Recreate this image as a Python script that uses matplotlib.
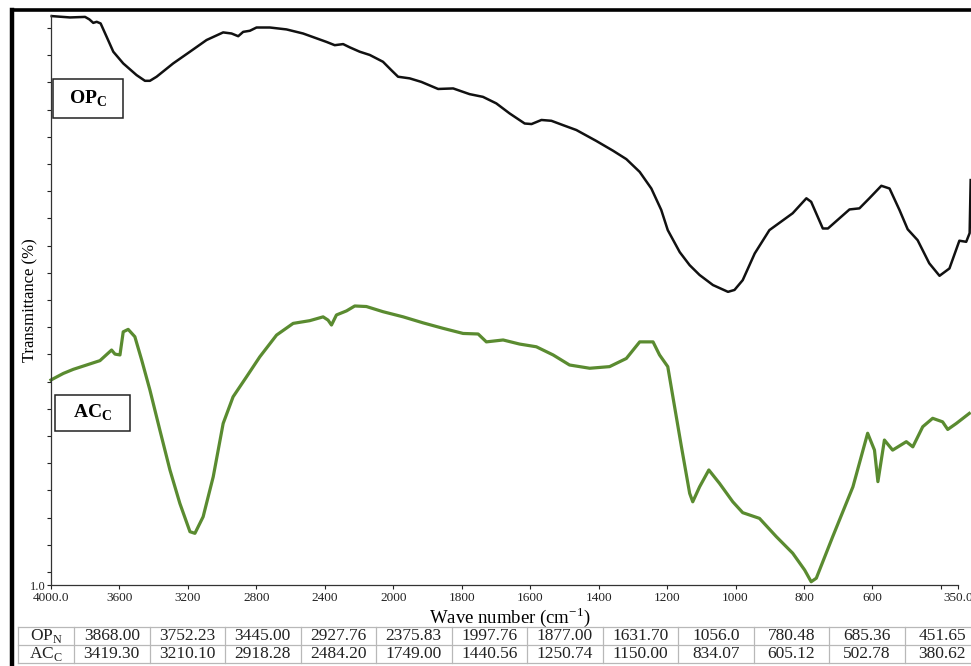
import numpy as np
import matplotlib
matplotlib.use("Agg")
import matplotlib.pyplot as plt
from matplotlib.lines import Line2D
from matplotlib.patches import Rectangle
from matplotlib.ticker import FixedLocator, FixedFormatter

plt.rcParams['font.family'] = ['Liberation Serif', 'DejaVu Serif']
plt.rcParams['mathtext.fontset'] = 'custom'
plt.rcParams['mathtext.rm'] = 'Liberation Serif'
plt.rcParams['mathtext.bf'] = 'Liberation Serif:bold'

# OP_C spectrum (wavenumber cm-1, transmittance a.u.)
op_wn = [3996, 3889, 3801, 3776, 3753, 3733, 3710, 3675, 3636, 3578,
         3500, 3451, 3422, 3383, 3286, 3188, 3091, 2994, 2945, 2906,
         2877, 2838, 2799, 2721, 2624, 2527, 2390, 2342, 2293, 2254,
         2196, 2137, 2060, 2011, 1986, 1952, 1918, 1869, 1825, 1777,
         1738, 1699, 1660, 1616, 1596, 1567, 1538, 1504, 1465, 1407,
         1358, 1319, 1280, 1246, 1217, 1198, 1163, 1134, 1105, 1066,
         1022, 1003, 979, 944, 901, 833, 793, 779, 745, 730,
         667, 638, 609, 574, 550, 521, 497, 468, 434, 404,
         375, 346, 326, 316, 313]
op_t = [21.92, 21.87, 21.89, 21.80, 21.67, 21.71, 21.65, 21.16, 20.61, 20.18,
        19.75, 19.54, 19.54, 19.69, 20.18, 20.61, 21.04, 21.32, 21.28, 21.18,
        21.34, 21.38, 21.50, 21.50, 21.43, 21.28, 20.97, 20.85, 20.89, 20.77,
        20.61, 20.49, 20.24, 19.93, 19.69, 19.63, 19.50, 19.24, 19.26, 19.05,
        18.95, 18.71, 18.34, 17.97, 17.95, 18.10, 18.07, 17.91, 17.73, 17.33,
        16.97, 16.66, 16.19, 15.58, 14.79, 14.05, 13.24, 12.76, 12.40, 12.03,
        11.78, 11.85, 12.21, 13.19, 14.05, 14.67, 15.22, 15.09, 14.11, 14.11,
        14.81, 14.85, 15.22, 15.68, 15.58, 14.79, 14.08, 13.68, 12.83, 12.37,
        12.64, 13.66, 13.62, 13.94, 15.89]

# AC_C spectrum
ac_wn = [4000, 3928, 3870, 3792, 3714, 3646, 3626, 3597, 3578, 3549,
         3510, 3470, 3422, 3364, 3305, 3247, 3188, 3159, 3111, 3052,
         2994, 2936, 2857, 2780, 2682, 2585, 2488, 2410, 2381, 2361,
         2332, 2273, 2225, 2157, 2060, 1971, 1913, 1855, 1796, 1752,
         1728, 1679, 1631, 1582, 1533, 1485, 1426, 1368, 1319, 1280,
         1241, 1222, 1198, 1183, 1158, 1134, 1125, 1105, 1078, 1047,
         1008, 979, 930, 881, 833, 798, 779, 764, 716, 657,
         614, 594, 584, 565, 541, 501, 482, 453, 424, 395,
         380, 355, 317]
ac_t = [8.54, 8.78, 8.93, 9.09, 9.25, 9.64, 9.49, 9.46, 10.31, 10.40,
        10.13, 9.27, 8.17, 6.70, 5.23, 4.00, 2.96, 2.90, 3.51, 4.98,
        6.94, 7.92, 8.66, 9.39, 10.19, 10.62, 10.72, 10.86, 10.74, 10.56,
        10.93, 11.08, 11.26, 11.24, 11.05, 10.86, 10.64, 10.44, 10.25, 10.23,
        9.94, 10.01, 9.86, 9.76, 9.46, 9.09, 8.97, 9.03, 9.33, 9.94,
        9.94, 9.46, 9.03, 7.92, 6.08, 4.37, 4.06, 4.61, 5.23, 4.74,
        4.06, 3.66, 3.45, 2.78, 2.17, 1.55, 1.12, 1.25, 2.78, 4.61,
        6.58, 5.96, 4.80, 6.33, 5.96, 6.27, 6.08, 6.82, 7.13, 7.00,
        6.72, 6.94, 7.31]

x_ticks = [4000, 3600, 3200, 2800, 2400, 2000, 1800, 1600, 1400, 1200,
           1000, 800, 600, 400, 350]
x_ticklabels = ['4000.0', '3600', '3200', '2800', '2400', '2000', '1800',
                '1600', '1400', '1200', '1000', '800', '600', '', '350.0']

# peak table
row_names = [r'OP$_{\mathrm{N}}$', r'AC$_{\mathrm{C}}$']
op_peaks = ['3868.00', '3752.23', '3445.00', '2927.76', '2375.83', '1997.76',
            '1877.00', '1631.70', '1056.0', '780.48', '685.36', '451.65']
ac_peaks = ['3419.30', '3210.10', '2918.28', '2484.20', '1749.00', '1440.56',
            '1250.74', '1150.00', '834.07', '605.12', '502.78', '380.62']


# scale changes at 2000 cm-1 (400/div above, 200/div below)
def fwd(w):
    w = np.asarray(w, dtype=float)
    return np.where(w >= 2000, (w - 2000) / 400.0, (w - 2000) / 200.0)


def inv(p):
    p = np.asarray(p, dtype=float)
    return np.where(p >= 0, 2000 + 400.0 * p, 2000 + 200.0 * p)


W, H = 971, 666
fig = plt.figure(figsize=(W / 100, H / 100), dpi=100)
ax = fig.add_axes([51 / W, 1 - 585 / H, 907 / W, 570 / H])

ax.set_xscale('function', functions=(fwd, inv))
ax.set_xlim(4000, 350)
ax.set_ylim(1.0, 21.96)

ax.plot(op_wn, op_t, color='#111111', lw=1.8, clip_on=False,
        solid_joinstyle='round')
ax.plot(ac_wn, ac_t, color='#5a8b30', lw=2.3, clip_on=False,
        solid_joinstyle='round')

for s in ['top', 'right']:
    ax.spines[s].set_visible(False)
for s in ['left', 'bottom']:
    ax.spines[s].set_color('#333333')
    ax.spines[s].set_linewidth(0.9)

ax.xaxis.set_major_locator(FixedLocator(x_ticks))
ax.xaxis.set_major_formatter(FixedFormatter(x_ticklabels))
ax.xaxis.set_minor_locator(FixedLocator([]))
ax.tick_params(axis='x', direction='out', length=3, width=0.8,
               labelsize=9.5, pad=2, colors='#222222')

ax.set_yticks([1.0])
ax.set_yticklabels(['1.0'])
ax.set_yticks([1.48 + k for k in range(21)], minor=True)
ax.tick_params(axis='y', which='both', direction='out', length=3,
               width=0.8, labelsize=9, pad=1, colors='#222222')

ax.set_ylabel('Transmittance (%)', fontsize=12)
ax.yaxis.set_label_coords(-0.014, 0.5)
fig.text(0.525, 1 - 617 / H, r'Wave number (cm$^{\mathrm{-1}}$)',
         ha='center', va='center', fontsize=13.5)

# sample labels in boxes
ax.add_patch(Rectangle((0.0022, 0.819), 0.0772, 0.0684,
                       transform=ax.transAxes, fill=False,
                       ec='#222222', lw=1.1))
ax.text(0.0408, 0.853, r'OP$_{\mathbf{C}}$', transform=ax.transAxes,
        ha='center', va='center', fontsize=14, fontweight='bold')
ax.add_patch(Rectangle((0.0044, 0.270), 0.0827, 0.0632,
                       transform=ax.transAxes, fill=False,
                       ec='#222222', lw=1.1))
ax.text(0.0458, 0.302, r'AC$_{\mathbf{C}}$', transform=ax.transAxes,
        ha='center', va='center', fontsize=14, fontweight='bold')

# outer frame
fig.add_artist(Line2D([12 / W, 1.0], [1 - 10 / H, 1 - 10 / H],
                      transform=fig.transFigure, color='black', lw=2.6))
fig.add_artist(Line2D([12 / W, 12 / W], [0.0, 1 - 10 / H],
                      transform=fig.transFigure, color='black', lw=3.2))

# peak table under the axis
cw = 75.5
col_x = [18, 74] + [74 + cw * (i + 1) for i in range(12)]
row_y = [627, 645, 663]
grid_c = '#b8b8b8'
for yy in row_y:
    fig.add_artist(Line2D([col_x[0] / W, 1.0], [1 - yy / H, 1 - yy / H],
                          transform=fig.transFigure, color=grid_c, lw=0.9))
for xx in col_x:
    if xx <= W:
        fig.add_artist(Line2D([xx / W, xx / W],
                              [1 - row_y[0] / H, 1 - row_y[-1] / H],
                              transform=fig.transFigure, color=grid_c,
                              lw=0.9))
for r, (name, vals) in enumerate(zip(row_names, [op_peaks, ac_peaks])):
    yc = 1 - (row_y[r] + row_y[r + 1]) / 2 / H
    fig.text((col_x[0] + col_x[1]) / 2 / W, yc, name, ha='center',
             va='center', fontsize=12.5, color='#222222')
    for i, v in enumerate(vals):
        xc = (col_x[i + 1] + col_x[i + 2]) / 2
        fig.text(xc / W, yc, v, ha='center', va='center', fontsize=12.5,
                 color='#222222')

fig.savefig('out.png', dpi=100, facecolor='white')
